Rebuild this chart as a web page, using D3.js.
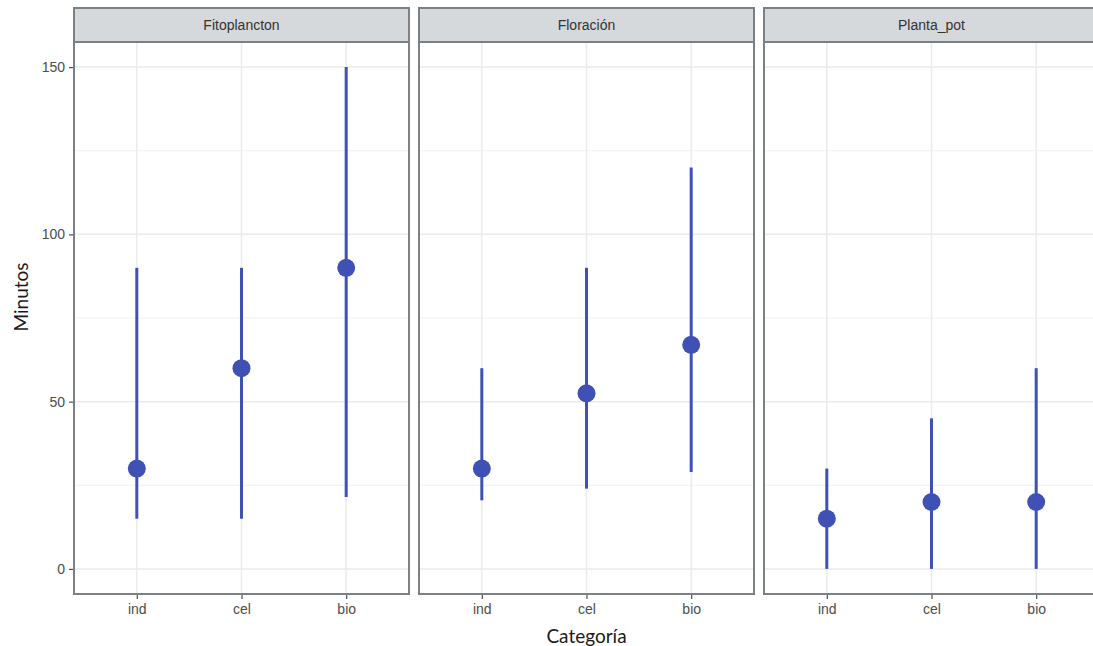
<!DOCTYPE html>
<html>
<head>
<meta charset="utf-8">
<script src="https://cdn.jsdelivr.net/npm/d3@7"></script>
<style>
  body { margin: 0; background: #fff; }
  svg { display: block; font-family: "Liberation Sans", Arial, sans-serif; }
</style>
</head>
<body>
<script>
// data
let facets = ["Fitoplancton", "Floración", "Planta_pot"];
let categories = ["ind", "cel", "bio"];
let yTicks = [0, 50, 100, 150];
// per facet, per category
let centers = [[30, 60, 90], [30, 52.5, 67], [15, 20, 20]];
let lows    = [[15, 15, 21.5], [20.5, 24, 29], [0, 0, 0]];
let highs   = [[90, 90, 150], [60, 90, 120], [30, 45, 60]];

let width = 1093, height = 646;
let plotLeft = 74, plotRight = 1099, gap = 10;
let stripTop = 8, stripH = 34, panelBottom = 594;
let panelW = (plotRight - plotLeft - gap * 2) / 3;
let blue = "#3f51b5";

let svg = d3.select("body").append("svg")
    .attr("width", width)
    .attr("height", height);

let y = d3.scaleLinear()
    .domain([-7.5, 157.5])
    .range([panelBottom, stripTop + stripH]);

facets.forEach(function(name, fi){
    let x0 = plotLeft + fi * (panelW + gap);
    let x = d3.scalePoint()
        .domain(categories)
        .range([x0, x0 + panelW])
        .padding(0.6);

    let g = svg.append("g");

    // minor grid
    g.selectAll("line.minor")
        .data([25, 75, 125])
        .enter().append("line")
        .attr("x1", x0).attr("x2", x0 + panelW)
        .attr("y1", d => y(d)).attr("y2", d => y(d))
        .attr("stroke", "#f2f2f2").attr("stroke-width", 1);

    // major grid
    g.selectAll("line.hmajor")
        .data(yTicks)
        .enter().append("line")
        .attr("x1", x0).attr("x2", x0 + panelW)
        .attr("y1", d => y(d)).attr("y2", d => y(d))
        .attr("stroke", "#ebebeb").attr("stroke-width", 1.5);

    g.selectAll("line.vmajor")
        .data(categories)
        .enter().append("line")
        .attr("x1", d => x(d)).attr("x2", d => x(d))
        .attr("y1", stripTop + stripH).attr("y2", panelBottom)
        .attr("stroke", "#ebebeb").attr("stroke-width", 1.5);

    // ranges
    g.selectAll("line.range")
        .data(categories)
        .enter().append("line")
        .attr("x1", d => x(d)).attr("x2", d => x(d))
        .attr("y1", (d, i) => y(lows[fi][i]))
        .attr("y2", (d, i) => y(highs[fi][i]))
        .attr("stroke", blue).attr("stroke-width", 3);

    g.selectAll("circle")
        .data(categories)
        .enter().append("circle")
        .attr("cx", d => x(d))
        .attr("cy", (d, i) => y(centers[fi][i]))
        .attr("r", 9)
        .attr("fill", blue);

    // panel border
    g.append("rect")
        .attr("x", x0).attr("y", stripTop + stripH)
        .attr("width", panelW).attr("height", panelBottom - stripTop - stripH)
        .attr("fill", "none").attr("stroke", "#7b8084").attr("stroke-width", 2);

    // strip
    g.append("rect")
        .attr("x", x0).attr("y", stripTop)
        .attr("width", panelW).attr("height", stripH)
        .attr("fill", "#d5d9dc").attr("stroke", "#7b8084").attr("stroke-width", 2);
    g.append("text")
        .attr("x", x0 + panelW / 2).attr("y", stripTop + stripH / 2 + 5)
        .attr("text-anchor", "middle")
        .attr("font-size", 14).attr("fill", "#333")
        .text(name);

    // x axis
    let xAxis = g.append("g")
        .attr("transform", "translate(0," + (panelBottom + 1) + ")")
        .call(d3.axisBottom(x).tickSize(4).tickPadding(5));
    xAxis.select(".domain").remove();
    xAxis.selectAll("line").attr("stroke", "#4d4d4d").attr("stroke-width", 1.2);
    xAxis.selectAll("text").attr("font-size", 14).attr("fill", "#4d4d4d")
        .attr("font-family", "Liberation Sans, Arial, sans-serif");
});

// y axis
let yAxis = svg.append("g")
    .attr("transform", "translate(" + (plotLeft - 1) + ",0)")
    .call(d3.axisLeft(y).tickValues(yTicks).tickSize(4).tickPadding(4));
yAxis.select(".domain").remove();
yAxis.selectAll("line").attr("stroke", "#4d4d4d").attr("stroke-width", 1.2);
yAxis.selectAll("text").attr("font-size", 14).attr("fill", "#4d4d4d")
    .attr("font-family", "Liberation Sans, Arial, sans-serif");

// titles
svg.append("text")
    .attr("transform", "translate(28,297) rotate(-90)")
    .attr("text-anchor", "middle")
    .attr("font-size", 19)
    .attr("font-family", "Lato, 'Open Sans', sans-serif")
    .attr("fill", "#1a1a1a")
    .text("Minutos");

svg.append("text")
    .attr("x", (plotLeft + plotRight) / 2)
    .attr("y", 643)
    .attr("text-anchor", "middle")
    .attr("font-size", 19)
    .attr("font-family", "Lato, 'Open Sans', sans-serif")
    .attr("fill", "#1a1a1a")
    .text("Categoría");
</script>
</body>
</html>
